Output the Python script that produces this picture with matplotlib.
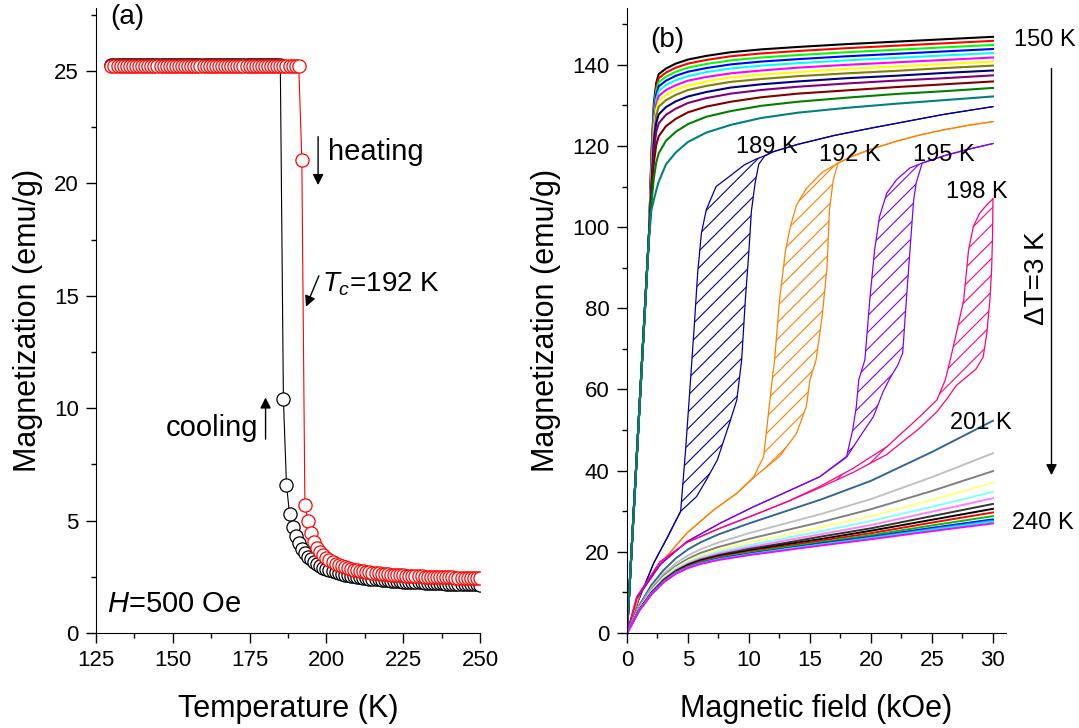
import matplotlib
matplotlib.use('Agg')
import matplotlib.pyplot as plt
import numpy as np
from matplotlib.ticker import MultipleLocator

plt.rcParams['font.family'] = 'Liberation Sans'
plt.rcParams['mathtext.fontset'] = 'custom'
plt.rcParams['mathtext.rm'] = 'Liberation Sans'
plt.rcParams['mathtext.it'] = 'Liberation Sans:italic'
plt.rcParams['hatch.linewidth'] = 0.8

# ---------- panel (a): M(T) at 500 Oe ----------
temp = np.arange(130, 251)

m_cool = [
    25.25, 25.25, 25.25, 25.25, 25.25, 25.25, 25.25, 25.25, 25.25, 25.25,
    25.25, 25.25, 25.25, 25.25, 25.25, 25.25, 25.25, 25.25, 25.25, 25.25,
    25.25, 25.25, 25.25, 25.25, 25.25, 25.25, 25.25, 25.25, 25.25, 25.25,
    25.25, 25.25, 25.25, 25.25, 25.25, 25.25, 25.25, 25.25, 25.25, 25.25,
    25.25, 25.25, 25.25, 25.25, 25.25, 25.25, 25.25, 25.25, 25.25, 25.25,
    25.25, 25.25, 25.25, 25.25, 25.25, 25.25,
    10.4, 6.6, 5.3, 4.7, 4.3, 4.0, 3.75, 3.55, 3.4, 3.27, 3.16, 3.06, 2.98, 2.91, 2.85,
    2.80, 2.75, 2.71, 2.67, 2.63, 2.60, 2.57, 2.54, 2.52, 2.50,
    2.48, 2.46, 2.44, 2.42, 2.41, 2.39, 2.38, 2.37, 2.36, 2.34,
    2.33, 2.32, 2.31, 2.30, 2.29, 2.28, 2.28, 2.27, 2.26, 2.25,
    2.25, 2.24, 2.23, 2.23, 2.22, 2.22, 2.21, 2.21, 2.20, 2.20,
    2.19, 2.19, 2.18, 2.18, 2.18, 2.17, 2.17, 2.16, 2.16, 2.15]

m_heat = [
    25.2, 25.2, 25.2, 25.2, 25.2, 25.2, 25.2, 25.2, 25.2, 25.2,
    25.2, 25.2, 25.2, 25.2, 25.2, 25.2, 25.2, 25.2, 25.2, 25.2,
    25.2, 25.2, 25.2, 25.2, 25.2, 25.2, 25.2, 25.2, 25.2, 25.2,
    25.2, 25.2, 25.2, 25.2, 25.2, 25.2, 25.2, 25.2, 25.2, 25.2,
    25.2, 25.2, 25.2, 25.2, 25.2, 25.2, 25.2, 25.2, 25.2, 25.2,
    25.2, 25.2, 25.2, 25.2, 25.2, 25.2, 25.2, 25.2, 25.2, 25.2,
    25.2, 25.2,
    21.05, 5.7, 5.0, 4.45, 4.05, 3.8, 3.6, 3.45, 3.33,
    3.23, 3.15, 3.08, 3.02, 2.97, 2.93, 2.89, 2.85, 2.82, 2.79,
    2.76, 2.74, 2.72, 2.70, 2.68, 2.66, 2.65, 2.63, 2.62, 2.61,
    2.60, 2.59, 2.58, 2.57, 2.56, 2.55, 2.54, 2.54, 2.53, 2.52,
    2.52, 2.51, 2.51, 2.50, 2.50, 2.49, 2.49, 2.48, 2.48, 2.47,
    2.47, 2.46, 2.46, 2.46, 2.45, 2.45, 2.45, 2.44, 2.44, 2.44]

# ---------- panel (b): M(H) isotherms ----------
# ferromagnetic isotherms 150-186 K
h_fm = [0, 1.8, 2.0, 2.2, 2.4, 2.6, 3.2, 4, 5, 6.5, 8.5, 11, 14, 18, 22, 26, 30]
fm_colors = ['#000000', '#FF0000', '#00FF00', '#0000FF', '#00FFFF', '#FF00FF',
             '#FFFF00', '#808000', '#000080', '#800080', '#800000', '#008000',
             '#008080']
m_fm = [
    [0, 98, 118.0, 130.5, 135.6, 137.7, 139.1, 140.3, 141.3, 142.2, 143.1, 143.8, 144.4, 145.1, 145.7, 146.3, 146.9],
    [0, 98, 117.0, 129.5, 134.6, 136.7, 138.1, 139.3, 140.3, 141.2, 142.1, 142.8, 143.4, 144.1, 144.7, 145.3, 145.9],
    [0, 98, 116.0, 128.5, 133.6, 135.7, 137.1, 138.3, 139.3, 140.2, 141.1, 141.8, 142.4, 143.1, 143.7, 144.3, 144.9],
    [0, 98, 115.0, 127.5, 132.6, 134.7, 136.1, 137.3, 138.3, 139.2, 140.1, 140.8, 141.4, 142.1, 142.7, 143.3, 143.9],
    [0, 98, 114.0, 126.4, 131.5, 133.6, 135.0, 136.2, 137.2, 138.2, 139.1, 139.8, 140.4, 141.1, 141.7, 142.3, 142.9],
    [0, 98, 112.9, 125.3, 130.3, 132.3, 133.8, 135.0, 136.1, 137.0, 137.9, 138.6, 139.3, 140.0, 140.6, 141.2, 141.8],
    [0, 98, 111.9, 124.0, 129.0, 131.1, 132.6, 133.9, 134.9, 135.9, 136.9, 137.6, 138.2, 139.0, 139.6, 140.2, 140.8],
    [0, 98, 111.0, 122.7, 127.6, 129.7, 131.3, 132.6, 133.8, 134.8, 135.8, 136.5, 137.2, 137.9, 138.5, 139.2, 139.8],
    [0, 98, 109.8, 120.9, 125.7, 127.8, 129.6, 131.0, 132.2, 133.3, 134.4, 135.2, 135.9, 136.7, 137.3, 138.0, 138.6],
    [0, 98, 108.7, 118.8, 123.5, 125.6, 127.7, 129.2, 130.6, 131.8, 132.9, 133.8, 134.6, 135.4, 136.1, 136.7, 137.4],
    [0, 98, 107.3, 115.8, 120.3, 122.4, 124.9, 126.7, 128.3, 129.7, 130.9, 132.0, 132.9, 133.7, 134.5, 135.2, 135.9],
    [0, 98, 105.9, 112.0, 116.0, 118.2, 121.3, 123.5, 125.4, 127.2, 128.6, 129.9, 130.9, 131.9, 132.8, 133.5, 134.3],
    [0, 97, 104.2, 106.7, 109.1, 111.2, 115.5, 118.4, 121.0, 123.3, 125.2, 126.9, 128.2, 129.4, 130.4, 131.3, 132.2]]

# hysteresis loops (field up / field down)
h189_up = [0, 1.0, 2.2, 3.3, 4.4, 5.7, 6.5, 7.4, 8.4, 9.0, 9.4, 9.7, 10.0, 10.2, 10.5, 10.8, 11.3, 12, 14, 17, 20, 23, 26, 30]
m189_up = [0, 8.5, 17.3, 23.5, 30.0, 33.6, 37.7, 42.6, 51.7, 57.4, 67.3, 82.0, 94.4, 104.0, 110.8, 115.5, 117.6, 118.6, 120.4, 122.6, 124.4, 126.1, 127.8, 129.7]
h189_dn = [0, 1.0, 2.2, 3.3, 4.4, 4.8, 5.2, 5.5, 5.8, 6.1, 6.5, 7.3, 8.4, 9.6, 10.6, 11.3, 12, 14, 17, 20, 23, 26, 30]
m189_dn = [0, 8.5, 17.3, 23.5, 30.0, 45.0, 62.0, 75.0, 89.0, 98.5, 104.3, 110.0, 112.5, 115.3, 116.8, 117.6, 118.6, 120.4, 122.6, 124.4, 126.1, 127.8, 129.7]

h192_up = [0, 1.1, 3.0, 4.9, 7.1, 9.0, 10.4, 11.6, 12.5, 13.9, 14.7, 15.0, 15.5, 16.0, 16.4, 16.6, 16.9, 17.3, 18.5, 20, 22, 24, 26, 28, 30]
m192_up = [0, 9.8, 18.0, 24.6, 30.3, 34.4, 38.3, 41.3, 43.5, 49.2, 55.8, 62.4, 67.3, 78.0, 90.3, 104.3, 111.5, 115.8, 117.5, 119.2, 121.1, 122.7, 124.0, 125.1, 126.0]
h192_dn = [0, 1.1, 3.0, 4.9, 7.1, 9.0, 10.4, 11.2, 11.6, 11.9, 12.1, 12.5, 13.0, 13.4, 13.9, 14.7, 16.0, 17.3, 18.5, 20, 22, 24, 26, 28, 30]
m192_dn = [0, 9.8, 18.0, 24.6, 30.3, 34.4, 38.5, 43.5, 54.2, 62.4, 67.3, 82.0, 94.4, 100.2, 105.5, 109.5, 113.5, 115.8, 117.5, 119.2, 121.1, 122.7, 124.0, 125.1, 126.0]

h195_up = [0, 0.8, 2.7, 4.9, 7.6, 10.3, 13.1, 15.8, 18.0, 19.1, 20.2, 21.0, 21.6, 22.2, 22.6, 22.9, 23.2, 23.5, 23.7, 24.2, 26, 28, 30]
m195_up = [0, 8.5, 16.8, 22.5, 27.0, 31.0, 34.8, 38.5, 43.3, 48.4, 53.3, 59.5, 63.0, 66.0, 69.0, 82.0, 94.4, 106.7, 110.8, 115.8, 117.6, 119.2, 120.6]
h195_dn = [0, 0.8, 2.7, 4.9, 7.6, 10.3, 13.1, 15.8, 18.0, 18.5, 18.8, 19.0, 19.5, 19.9, 20.3, 20.7, 21.3, 22.1, 23.2, 24.2, 26, 28, 30]
m195_dn = [0, 8.5, 16.8, 22.5, 27.0, 31.0, 34.8, 38.5, 43.5, 50.0, 55.8, 62.4, 67.3, 82.0, 94.4, 102.6, 108.4, 111.7, 114.6, 115.8, 117.6, 119.2, 120.6]

h198_up = [0, 0.8, 2.7, 4.9, 7.6, 10.35, 13.1, 15.8, 18.5, 21.3, 24.0, 25.4, 26.3, 27.0, 27.8, 28.6, 29.2, 29.5, 29.75, 29.9, 29.97, 30.0]
m198_up = [0, 8.9, 17.5, 22.3, 25.8, 29.0, 32.3, 35.8, 39.5, 44.0, 50.5, 54.5, 58.0, 61.0, 63.0, 65.0, 68.0, 73.9, 82.0, 90.3, 98.5, 107.0]
h198_dn = [0, 0.8, 2.7, 4.9, 7.6, 10.35, 13.1, 15.8, 18.5, 21.3, 24.0, 25.4, 26.1, 26.5, 27.0, 27.6, 28.0, 28.4, 28.9, 29.5, 30.0]
m198_dn = [0, 8.9, 17.5, 22.3, 25.8, 29.0, 32.3, 36.1, 40.5, 45.9, 53.3, 57.4, 62.4, 67.3, 73.9, 82.0, 94.4, 100.2, 103.4, 105.5, 107.0]

loop_colors = ['#0000A0', '#FF8000', '#8000FF', '#FF0080']

# paramagnetic isotherms 201-240 K
h_pm = [0, 1, 2, 3, 4, 5, 6, 7.5, 10, 13, 16, 20, 25, 30]
pm_colors = ['#336699', '#C0C0C0', '#808080', '#FFFF80', '#80FFFF', '#FF80FF',
             '#333333', '#000000', '#FF0000', '#00C000', '#0000FF', '#00A0FF',
             '#00FFFF', '#FF00FF']
m_pm = [
    [0, 6.8, 11.8, 15.5, 18.4, 20.6, 22.3, 24.3, 27.0, 30.0, 33.0, 37.5, 44.6, 52.3],
    [0, 6.4, 11.1, 14.6, 17.2, 19.1, 20.6, 22.3, 24.6, 27.0, 29.4, 33.0, 38.4, 44.3],
    [0, 6.2, 10.7, 14.1, 16.5, 18.3, 19.7, 21.2, 23.2, 25.3, 27.4, 30.5, 35.0, 39.9],
    [0, 6.0, 10.4, 13.7, 16.1, 17.8, 19.1, 20.5, 22.3, 24.2, 26.1, 28.8, 32.8, 37.0],
    [0, 5.9, 10.2, 13.4, 15.8, 17.4, 18.6, 20.0, 21.6, 23.4, 25.1, 27.6, 31.1, 34.8],
    [0, 5.8, 10.1, 13.2, 15.5, 17.1, 18.3, 19.6, 21.1, 22.8, 24.4, 26.6, 29.9, 33.2],
    [0, 5.7, 9.9, 13.1, 15.3, 16.9, 18.0, 19.2, 20.7, 22.2, 23.8, 25.8, 28.8, 31.8],
    [0, 5.7, 9.8, 12.9, 15.1, 16.7, 17.8, 18.9, 20.3, 21.8, 23.2, 25.2, 27.9, 30.6],
    [0, 5.6, 9.7, 12.8, 15.0, 16.5, 17.6, 18.7, 20.0, 21.4, 22.8, 24.6, 27.2, 29.7],
    [0, 5.6, 9.7, 12.7, 14.9, 16.3, 17.4, 18.5, 19.8, 21.1, 22.4, 24.1, 26.5, 28.8],
    [0, 5.6, 9.6, 12.6, 14.8, 16.2, 17.2, 18.3, 19.5, 20.8, 22.1, 23.7, 25.9, 28.0],
    [0, 5.5, 9.6, 12.6, 14.7, 16.1, 17.1, 18.2, 19.4, 20.7, 21.9, 23.5, 25.6, 27.7],
    [0, 5.5, 9.5, 12.5, 14.7, 16.1, 17.1, 18.1, 19.3, 20.6, 21.8, 23.3, 25.4, 27.4],
    [0, 5.5, 9.5, 12.5, 14.6, 16.0, 17.0, 18.0, 19.2, 20.4, 21.6, 23.1, 25.1, 27.0]]


def style_axis(ax):
    ax.spines['top'].set_visible(False)
    ax.spines['right'].set_visible(False)
    ax.tick_params(which='major', direction='out', length=7.5, width=1, labelsize=16, pad=5)
    ax.tick_params(which='minor', direction='out', length=3.5, width=1)


fig = plt.figure(figsize=(10.79, 7.28), dpi=100)

# ---- (a) ----
ax1 = fig.add_axes([96 / 1079, 95 / 728, 384 / 1079, 625 / 728])
style_axis(ax1)
ax1.plot(temp, m_cool, '-', color='black', lw=0.8, marker='o', ms=9.5,
         mfc='white', mec='black', mew=0.9)
ax1.plot(temp, m_heat, '-', color='red', lw=0.8, marker='o', ms=9.5,
         mfc='white', mec='red', mew=0.9)
ax1.set_xlim(125, 250)
ax1.set_ylim(0, 27.8)
ax1.set_xticks([125, 150, 175, 200, 225, 250])
ax1.set_yticks([0, 5, 10, 15, 20, 25])
ax1.xaxis.set_minor_locator(MultipleLocator(12.5))
ax1.yaxis.set_minor_locator(MultipleLocator(2.5))
ax1.set_xlabel('Temperature (K)', fontsize=22, labelpad=16)
ax1.set_ylabel('Magnetization (emu/g)', fontsize=22, labelpad=8)

ax1.text(129.6, 27.4, '(a)', fontsize=20, va='center', ha='left')
ax1.annotate('', xy=(197.3, 19.8), xytext=(197.3, 22.2),
             arrowprops=dict(arrowstyle='-|>', color='black', lw=1, mutation_scale=16))
ax1.text(200.5, 21.4, 'heating', fontsize=21, va='center', ha='left')
ax1.annotate('', xy=(193.0, 14.4), xytext=(197.9, 16.0),
             arrowprops=dict(arrowstyle='-|>', color='black', lw=1, mutation_scale=16))
ax1.text(198.6, 15.5, r'$T_c$=192 K', fontsize=20, va='center', ha='left')
ax1.annotate('', xy=(180.2, 10.6), xytext=(180.2, 8.5),
             arrowprops=dict(arrowstyle='-|>', color='black', lw=1, mutation_scale=16))
ax1.text(177.7, 9.1, 'cooling', fontsize=21, va='center', ha='right')
ax1.text(128.6, 1.3, r'$H$=500 Oe', fontsize=21, va='center', ha='left')

# ---- (b) ----
ax2 = fig.add_axes([627 / 1079, 95 / 728, 379 / 1079, 625 / 728])
style_axis(ax2)

for m, c in zip(m_fm, fm_colors):
    ax2.plot(h_fm, m, color=c, lw=1.5)

loops = [(h189_up, m189_up, h189_dn, m189_dn),
         (h192_up, m192_up, h192_dn, m192_dn),
         (h195_up, m195_up, h195_dn, m195_dn),
         (h198_up, m198_up, h198_dn, m198_dn)]
for (hu, mu, hd, md), c in zip(loops, loop_colors):
    ax2.fill(hu + hd[::-1], mu + md[::-1], facecolor='none', edgecolor=c,
             hatch='//', lw=0)
    ax2.plot(hu, mu, color=c, lw=0.9)
    ax2.plot(hd, md, color=c, lw=0.9)

for m, c in zip(m_pm, pm_colors):
    ax2.plot(h_pm, m, color=c, lw=1.4)

ax2.set_xlim(0, 31.07)
ax2.set_ylim(0, 154)
ax2.set_xticks([0, 5, 10, 15, 20, 25, 30])
ax2.set_yticks([0, 20, 40, 60, 80, 100, 120, 140])
ax2.xaxis.set_minor_locator(MultipleLocator(2.5))
ax2.yaxis.set_minor_locator(MultipleLocator(10))
ax2.set_xlabel('Magnetic field (kOe)', fontsize=22, labelpad=16)
ax2.set_ylabel('Magnetization (emu/g)', fontsize=22, labelpad=8)

ax2.text(1.9, 146.2, '(b)', fontsize=20, va='center', ha='left')
ax2.text(31.7, 146.2, '150 K', fontsize=17, va='center', ha='left', clip_on=False)
ax2.text(31.6, 27.1, '240 K', fontsize=17, va='center', ha='left', clip_on=False)
ax2.text(11.5, 119.7, '189 K', fontsize=17, va='center', ha='center')
ax2.text(18.3, 117.8, '192 K', fontsize=17, va='center', ha='center')
ax2.text(26.0, 117.8, '195 K', fontsize=17, va='center', ha='center')
ax2.text(28.65, 108.7, '198 K', fontsize=17, va='center', ha='center')
ax2.text(29.0, 51.8, '201 K', fontsize=17, va='center', ha='center')
ax2.annotate('', xy=(34.8, 38.2), xytext=(34.8, 139.8), annotation_clip=False,
             arrowprops=dict(arrowstyle='-|>', color='black', lw=1, mutation_scale=16))
ax2.text(33.6, 87.5, '\u0394T=3 K', fontsize=20, rotation=90, va='center',
         ha='center', clip_on=False)

fig.savefig('out.png', dpi=100)
